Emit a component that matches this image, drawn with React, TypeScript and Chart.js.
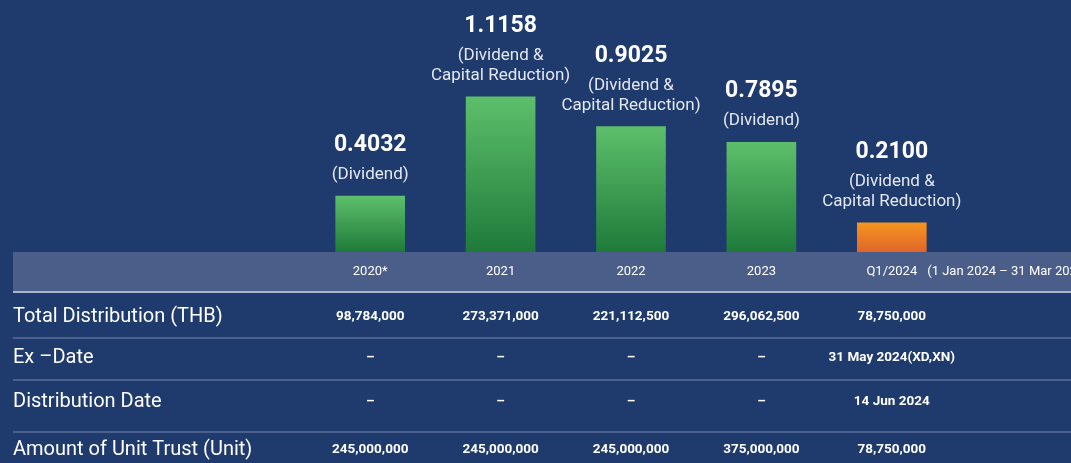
import React, { useEffect, useRef } from "react";
import { Chart, registerables } from "chart.js";

Chart.register(...registerables);

const categories = ["2020*", "2021", "2022", "2023", "Q1/2024"];
const distributionPerUnit = [0.4032, 1.1158, 0.9025, 0.7895, 0.21];
const distributionType = [
  ["(Dividend)"],
  ["(Dividend &", "Capital Reduction)"],
  ["(Dividend &", "Capital Reduction)"],
  ["(Dividend)"],
  ["(Dividend &", "Capital Reduction)"],
];
const periodNote = "(1 Jan 2024 – 31 Mar 2024)";
const rowLabels = ["Total Distribution (THB)", "Ex –Date", "Distribution Date", "Amount of Unit Trust (Unit)"];
const totalDistribution = ["98,784,000", "273,371,000", "221,112,500", "296,062,500", "78,750,000"];
const exDate = ["–", "–", "–", "–", "31 May 2024(XD,XN)"];
const distributionDate = ["–", "–", "–", "–", "14 Jun 2024"];
const unitAmount = ["245,000,000", "245,000,000", "245,000,000", "375,000,000", "78,750,000"];

const BG = "#1f3a6c";
const FONT = "Roboto, 'Noto Sans', sans-serif";

const tablePlugin = {
  id: "tablePlugin",
  beforeDraw(chart: any) {
    const { ctx, width, height } = chart;
    ctx.save();
    ctx.fillStyle = BG;
    ctx.fillRect(0, 0, width, height);
    const bottom = chart.chartArea.bottom;
    ctx.fillStyle = "#4b5e8a";
    ctx.fillRect(13, bottom, width - 13, 39);
    ctx.fillStyle = "#a9b5cc";
    ctx.fillRect(13, bottom + 39, width - 13, 2);
    ctx.fillStyle = "#4a5f8e";
    [337, 379, 431].forEach((y) => ctx.fillRect(13, y, width - 13, 2));
    ctx.restore();
  },
  afterDatasetsDraw(chart: any) {
    const { ctx } = chart;
    const meta = chart.getDatasetMeta(0);
    const bottom = chart.chartArea.bottom;
    ctx.save();
    ctx.textAlign = "center";
    ctx.textBaseline = "alphabetic";
    meta.data.forEach((bar: any, i: number) => {
      const x = bar.x;
      const lines = distributionType[i];
      let base = bar.y - 17;
      ctx.font = `17px ${FONT}`;
      ctx.fillStyle = "#e4e8f0";
      for (let k = lines.length - 1; k >= 0; k--) {
        ctx.fillText(lines[k], x, base);
        if (k > 0) base -= 20;
      }
      ctx.font = `bold 23px ${FONT}`;
      ctx.fillStyle = "#ffffff";
      ctx.fillText(distributionPerUnit[i].toFixed(4), x, base - 28);
    });

    // header
    ctx.textBaseline = "middle";
    ctx.font = `13px ${FONT}`;
    ctx.fillStyle = "#ffffff";
    const hy = bottom + 20;
    meta.data.forEach((bar: any, i: number) => {
      if (i === meta.data.length - 1) {
        ctx.textAlign = "left";
        const w = ctx.measureText(categories[i]).width;
        const left = bar.x - w / 2;
        ctx.fillText(categories[i], left, hy);
        ctx.font = `13px ${FONT}`;
        ctx.fillText(periodNote, left + w + 10, hy);
        ctx.textAlign = "center";
      } else {
        ctx.fillText(categories[i], bar.x, hy);
      }
    });

    const rows = [totalDistribution, exDate, distributionDate, unitAmount];
    const rowY = [317, 358, 402, 450];
    rows.forEach((row, r) => {
      ctx.textAlign = "left";
      ctx.font = `20px ${FONT}`;
      ctx.fillStyle = "#ffffff";
      ctx.fillText(rowLabels[r], 13, rowY[r]);
      ctx.textAlign = "center";
      ctx.font = `bold 13.5px ${FONT}`;
      meta.data.forEach((bar: any, i: number) => {
        ctx.fillText(row[i], bar.x, rowY[r]);
      });
    });
    ctx.restore();
  },
};

export default function App() {
  const ref = useRef<HTMLCanvasElement>(null);
  useEffect(() => {
    if (!ref.current) return;
    const chart = new Chart(ref.current, {
      type: "bar",
      data: {
        labels: categories,
        datasets: [
          {
            data: distributionPerUnit,
            barThickness: 69,
            borderWidth: 0,
            backgroundColor: (c: any) => {
              const chart = c.chart;
              const y = chart.scales?.y;
              const area = chart.chartArea;
              if (!y || !area) return "#3fa052";
              const top = y.getPixelForValue(c.raw ?? 0);
              const g = chart.ctx.createLinearGradient(0, top, 0, area.bottom);
              if (c.dataIndex === categories.length - 1) {
                g.addColorStop(0, "#f6961e");
                g.addColorStop(1, "#e0652a");
              } else {
                g.addColorStop(0, "#5dbf6b");
                g.addColorStop(1, "#1f7a3a");
              }
              return g;
            },
          },
        ],
      },
      options: {
        responsive: false,
        animation: false,
        events: [],
        layout: { padding: { left: 305, right: 114, top: 0, bottom: 211 } },
        plugins: { legend: { display: false }, tooltip: { enabled: false } },
        scales: {
          x: { display: false, offset: true },
          y: { display: false, min: 0, max: 1.813 },
        },
      },
      plugins: [tablePlugin],
    });
    return () => chart.destroy();
  }, []);
  return (
    <div style={{ position: "fixed", left: 0, top: 0, width: 1071, height: 463, background: BG }}>
      <canvas ref={ref} width={1071} height={463} style={{ display: "block" }} />
    </div>
  );
}
